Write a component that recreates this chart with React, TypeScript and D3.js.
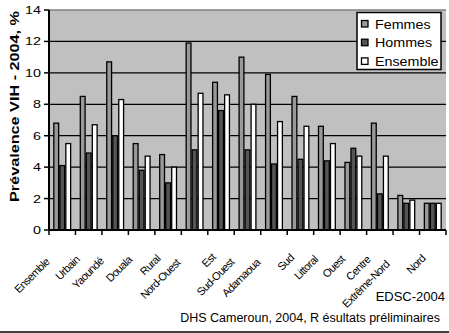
import React from "react";
import * as d3 from "d3";

const categories = ["Ensemble","Urbain","Yaoundé","Douala","Rural","Nord-Ouest","Est","Sud-Ouest","Adamaoua","Sud","Littoral","Ouest","Centre","Extrême-Nord","Nord"];
const femmes = [6.8,8.5,10.7,5.5,4.8,11.9,9.4,11.0,9.9,8.5,6.6,4.3,6.8,2.2,1.7];
const hommes = [4.1,4.9,6.0,3.8,3.0,5.1,7.6,5.1,4.2,4.5,4.4,5.2,2.3,1.7,1.7];
const ensemble = [5.5,6.7,8.3,4.7,4.0,8.7,8.6,8.0,6.9,6.6,5.5,4.7,4.7,1.9,1.7];
const seriesNames = ["Femmes","Hommes","Ensemble"];
const seriesColors = ["#999999","#555555","#ffffff"];
const yTicks = [0,2,4,6,8,10,12,14];

const FONT = "Liberation Sans, Arial, Helvetica, sans-serif";

function measure(text: string, font: string, spacing: number): number {
  const c = document.createElement("canvas");
  const ctx = c.getContext("2d");
  if (!ctx) return text.length * 5.2;
  ctx.font = font;
  return ctx.measureText(text).width + spacing * text.length;
}

export default function App() {
  const W = 449, H = 333;
  const left = 49, right = 446, top = 10, bottom = 230;
  const values = [femmes, hommes, ensemble];

  const x0 = d3.scaleBand<string>().domain(categories).range([left, right]).paddingInner(0.32).paddingOuter(0.16);
  const x1 = d3.scaleBand<string>().domain(seriesNames).range([0, x0.bandwidth()]);
  const y = d3.scaleLinear().domain([0, 14]).range([bottom, top]);
  const step = (right - left) / categories.length;
  const boundaries = d3.range(categories.length + 1).map(i => left + i * step);

  return (
    <svg width={W} height={H} style={{ position: "absolute", left: 0, top: 0, display: "block", background: "#fff", fontFamily: FONT }}>
      <rect x={left} y={top} width={right - left} height={bottom - top} fill="#c0c0c0" />
      {yTicks.filter(t => t > 0 && t < 14).map(t => (
        <line key={"g" + t} x1={left} x2={right} y1={y(t)} y2={y(t)} stroke="#000" strokeWidth={1.3} />
      ))}
      <line x1={left} x2={right} y1={y(14)} y2={y(14)} stroke="#808080" strokeWidth={1.3} />
      {categories.map((c, i) => (
        <g key={c}>
          {seriesNames.map((s, j) => {
            const v = values[j][i];
            const bx = (x0(c) as number) + (x1(s) as number);
            return (
              <rect key={s} x={bx + 0.6} y={y(v)} width={x1.bandwidth() - 1.2} height={y(0) - y(v)}
                fill={seriesColors[j]} stroke="#000" strokeWidth={1.3} />
            );
          })}
        </g>
      ))}
      <line x1={left} x2={left} y1={top} y2={bottom} stroke="#000" strokeWidth={2} />
      <line x1={left} x2={right} y1={bottom} y2={bottom} stroke="#000" strokeWidth={2} />
      {yTicks.map(t => (
        <g key={"yt" + t}>
          <line x1={left - 5} x2={left} y1={y(t)} y2={y(t)} stroke="#000" strokeWidth={1.5} />
          <text transform={`translate(41,${y(t) + 4}) scale(1.25,1)`} textAnchor="end" fontSize={11.5} fill="#000">{t}</text>
        </g>
      ))}
      {boundaries.map((b, i) => (
        <line key={"xt" + i} x1={b} x2={b} y1={bottom} y2={bottom + 5} stroke="#000" strokeWidth={1.5} />
      ))}
      {categories.map(c => {
        const cx = (x0(c) as number) + x0.bandwidth() / 2;
        const L = measure(c, `11px ${FONT}`, -0.6);
        const bx = cx - 1.5 - 0.24 * L;
        const by = 256 + 0.15 * L;
        return (
          <text key={"xl" + c} transform={`translate(${bx},${by}) rotate(-45)`} textAnchor="end" fontSize={11} letterSpacing={-0.6} fill="#000">{c}</text>
        );
      })}
      <text transform={`translate(19,${(10 + 203) / 2}) rotate(-90)`} textAnchor="middle" fontSize={13} fontWeight="bold"
        textLength={191} lengthAdjust="spacingAndGlyphs" fill="#000">Prévalence VIH - 2004, %</text>
      <rect x={357} y={12.5} width={84} height={57} fill="#fff" stroke="#000" strokeWidth={1.5} />
      {seriesNames.map((s, j) => (
        <g key={"lg" + s}>
          <rect x={361.5} y={20.5 + j * 18.7} width={6.5} height={6.5} fill={seriesColors[j]} stroke="#000" strokeWidth={1.3} />
          <text transform={`translate(375,${28.5 + j * 18.8}) scale(1.1,1)`} fontSize={13} fill="#000">{s}</text>
        </g>
      ))}
      <text x={445} y={301} textAnchor="end" fontSize={13} fill="#000">EDSC-2004</text>
      <text x={440} y={321.5} textAnchor="end" fontSize={12.5} fill="#000">DHS Cameroun, 2004, R ésultats préliminaires</text>
      <line x1={0} x2={W} y1={332} y2={332} stroke="#000" strokeWidth={1.5} />
    </svg>
  );
}
